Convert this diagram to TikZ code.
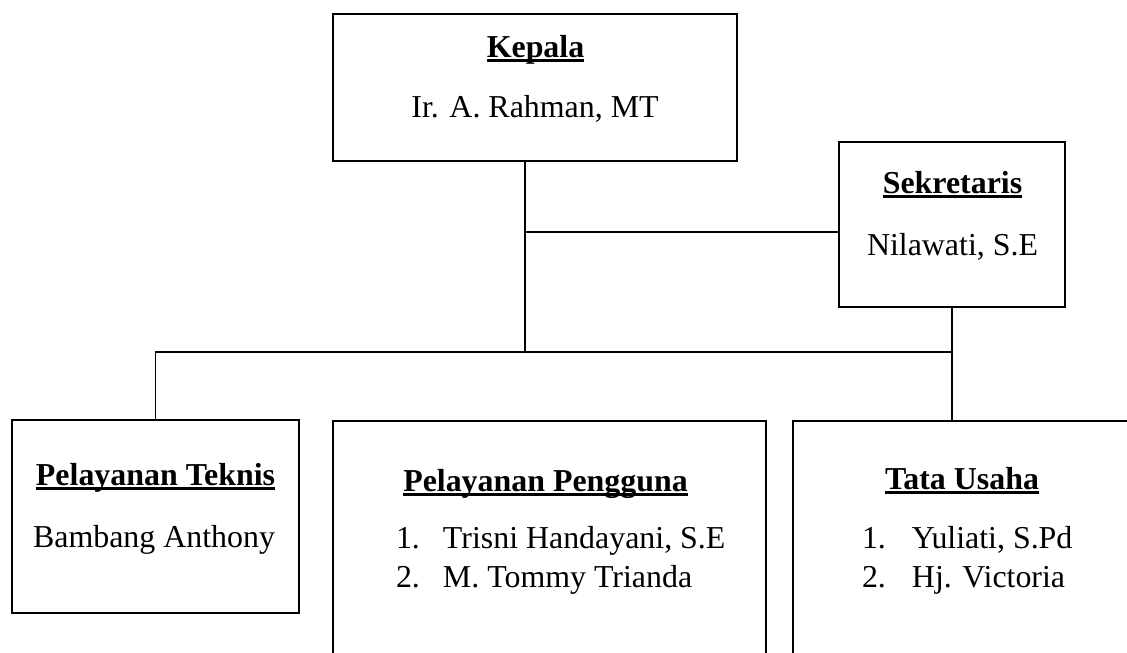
\documentclass[tikz,border=0pt]{standalone}
\usepackage{fontspec}
\setmainfont{Liberation Serif}
\newsavebox\ulbox
\newcommand\ulbf[1]{\sbox\ulbox{\bfseries #1}\leavevmode\vtop{\hbox{\usebox\ulbox}\kern-\dp\ulbox\kern2pt\hrule height 3pt width\wd\ulbox}}
\begin{document}
\begin{tikzpicture}[x=1pt,y=-1pt,
  box/.style={draw, line width=2.6pt, inner sep=0pt, rectangle},
  txt/.style={inner sep=0pt, outer sep=0pt, font=\fontsize{31.9}{38}\selectfont, anchor=base},
  lst/.style={txt, anchor=base west},
  conn/.style={line width=1.3pt}]
\useasboundingbox (0,0) rectangle (1127,653);
\clip (0,0) rectangle (1127,653);

% boxes
\node[box, minimum width=404pt, minimum height=147pt] (kepala) at (535,87.5) {};
\node[box, minimum width=226pt, minimum height=165pt] (sek) at (952,224.5) {};
\node[box, minimum width=287pt, minimum height=193pt] (teknis) at (155.5,516.5) {};
\node[box, minimum width=433pt, minimum height=279pt] (pengguna) at (549.5,560.5) {};
\node[box, minimum width=338pt, minimum height=279pt] (tata) at (962,560.5) {};

% texts
\node[txt] (kepT) at (535.5,57) {\ulbf{Kepala}};
\node[txt] (kepN) at (535,117) {Ir. A. Rahman, MT};
\node[txt] (sekT) at (952.5,193) {\ulbf{Sekretaris}};
\node[txt] (sekN) at (952.5,255) {Nilawati, S.E};
\node[txt] (tekT) at (155.5,485) {\ulbf{Pelayanan Teknis}};
\node[txt] (tekN) at (154,547) {Bambang Anthony};
\node[txt] (pgT) at (545.5,491) {\ulbf{Pelayanan Pengguna}};
\node[lst] (pg1) at (396,548) {\makebox[47pt][l]{1.}Trisni Handayani, S.E};
\node[lst] (pg2) at (396,587) {\makebox[47pt][l]{2.}M. Tommy Trianda};
\node[txt] (tuT) at (962,489) {\ulbf{Tata Usaha}};
\node[lst] (tu1) at (862,548) {\makebox[50pt][l]{1.}Yuliati, S.Pd};
\node[lst] (tu2) at (862,587) {\makebox[50pt][l]{2.}Hj. Victoria};

% connectors
\coordinate (kj) at (525,352);
\coordinate (sj) at (525,232);
\draw[conn] (kepala.south -| kj) -- (kj);
\draw[conn] (sj) -- (sj -| sek.west);
\draw[conn] (teknis.north) -- (teknis.north |- kj) -- (kj -| sek.south);
\draw[conn] (sek.south) -- (sek.south |- tata.north);
\end{tikzpicture}
\end{document}
